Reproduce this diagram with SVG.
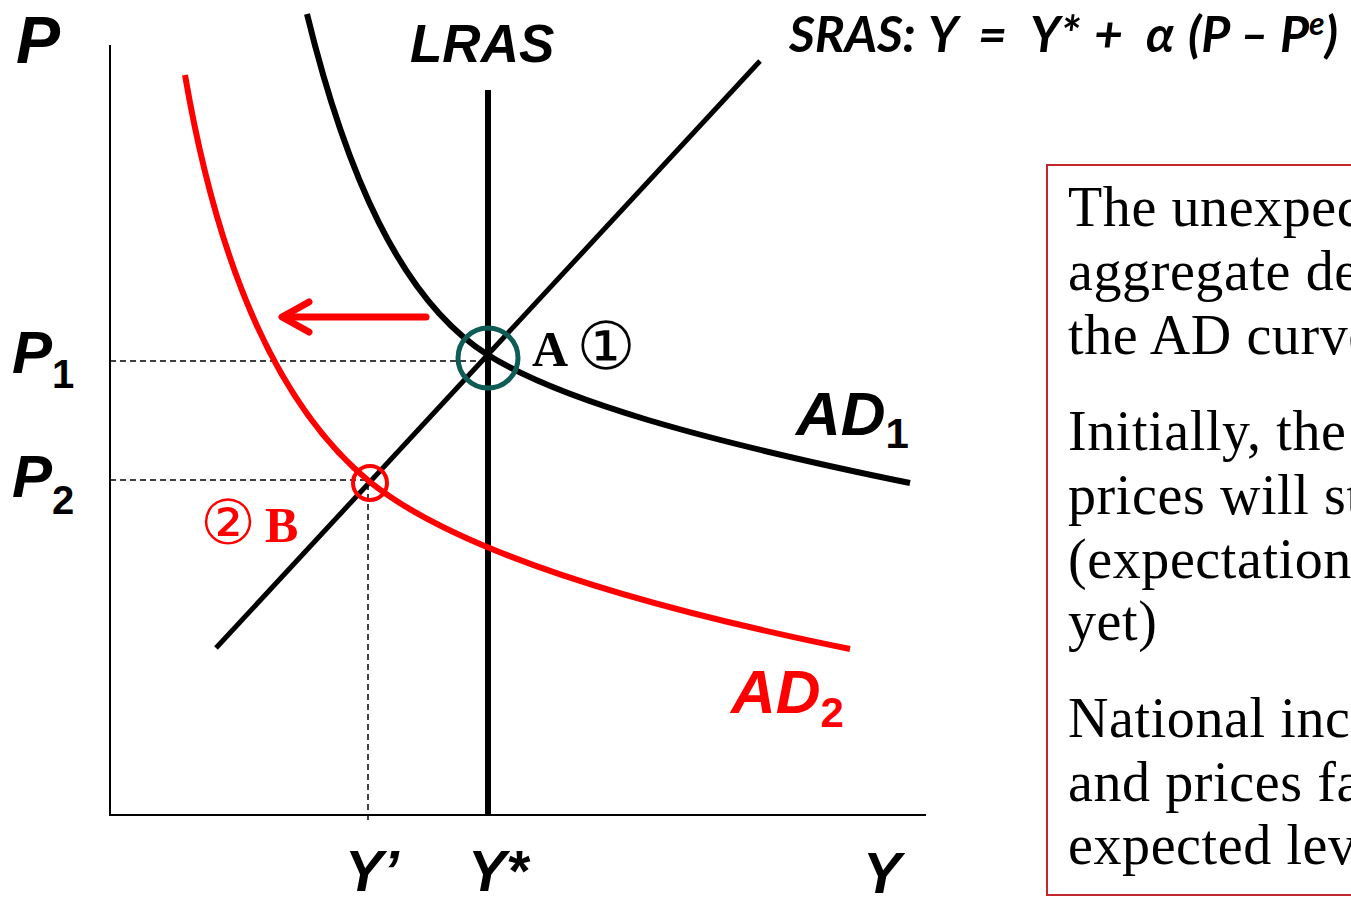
<svg xmlns="http://www.w3.org/2000/svg" width="1351" height="903" viewBox="0 0 1351 903">
<style>
.lbl{font-family:"Liberation Sans",Arial,sans-serif;font-weight:bold;font-style:italic}
.sub{font-style:normal}
.srf{font-family:"Liberation Serif","Times New Roman",serif;font-weight:bold}
.circ{font-family:"DejaVu Sans","Noto Sans CJK JP",sans-serif}
.body{font-family:"Liberation Serif","Times New Roman",serif;font-size:56px;fill:#000;letter-spacing:0.6px}
.dash{stroke:#000;stroke-width:1.5;stroke-dasharray:6,4;fill:none}
.crv{fill:none;stroke-width:6;stroke-linecap:butt}
</style>
<rect width="1351" height="903" fill="#fff"/>
<g id="axes" stroke="#000" stroke-width="2" fill="none">
<line x1="110" y1="45" x2="110" y2="816"/>
<line x1="109" y1="815" x2="926" y2="815"/>
</g>
<g id="connectors">
<line class="dash" x1="110" y1="361" x2="488" y2="361"/>
<line class="dash" x1="110" y1="480" x2="370" y2="480"/>
<line class="dash" x1="368" y1="484" x2="368" y2="821"/>
<line x1="488" y1="90" x2="488" y2="815" stroke="#000" stroke-width="6"/>
<line x1="216" y1="648" x2="760" y2="61" stroke="#000" stroke-width="5"/>
<path class="crv" stroke="#000" d="M307,14 C345,170 400,300 488,355 C560,400 700,440 910,483"/>
<path class="crv" stroke="#f00" d="M185,75 C215,250 270,400 370,482 C430,530 560,590 850,649"/>
<g stroke="#f00" stroke-width="7" stroke-linecap="round" fill="none">
<line x1="426" y1="317" x2="284" y2="317"/>
<polyline points="309,302 282,317 309,332" stroke-linejoin="round"/>
</g>
</g>
<g id="pointA">
<circle cx="488" cy="358" r="30" fill="none" stroke="#0e5c55" stroke-width="5"/>
<text class="srf" x="532" y="366" font-size="50">A</text>
<text class="circ" x="606" y="369" font-size="66" text-anchor="middle">①</text>
</g>
<g id="pointB">
<circle cx="370" cy="483" r="17" fill="none" stroke="#f00" stroke-width="4"/>
<text class="circ" x="228" y="544" font-size="62" text-anchor="middle" fill="#f00">②</text>
<text class="srf" x="265" y="542" font-size="50" fill="#f00">B</text>
</g>
<g id="labels">
<text class="lbl" x="16" y="63" font-size="66">P</text>
<text class="lbl" x="410" y="62" font-size="53">LRAS</text>
<text class="lbl" x="12" y="373" font-size="60">P<tspan class="sub" font-size="40" dy="15">1</tspan></text>
<text class="lbl" x="12" y="497" font-size="60">P<tspan class="sub" font-size="40" dy="17">2</tspan></text>
<text class="lbl" x="796" y="435" font-size="62">AD<tspan class="sub" font-size="42" dy="13">1</tspan></text>
<text class="lbl" x="731" y="713" font-size="62" fill="#f00">AD<tspan class="sub" font-size="42" dy="14">2</tspan></text>
<text class="lbl" x="345" y="891" font-size="57">Y’</text>
<text class="lbl" x="468" y="891" font-size="57">Y*</text>
<text class="lbl" x="863" y="893" font-size="57">Y</text>
<text font-family="Lato,'Open Sans','DejaVu Sans',sans-serif" font-weight="bold" font-style="italic" font-size="50" y="52"><tspan x="789">SRAS:</tspan><tspan x="928">Y</tspan><tspan x="978">=</tspan><tspan x="1030">Y*</tspan><tspan x="1094">+</tspan><tspan x="1146">α</tspan><tspan x="1188">(P – P</tspan><tspan font-size="32" dy="-17">e</tspan><tspan dy="17">)</tspan></text>
</g>
<g id="textbox">
<rect x="1047" y="165" width="330" height="730" fill="none" stroke="#c0282d" stroke-width="2"/>
<text class="body" x="1068"><tspan x="1068" y="226">The unexpected</tspan><tspan x="1068" y="290">aggregate demand</tspan><tspan x="1068" y="354">the AD curve</tspan><tspan x="1068" y="450">Initially, the</tspan><tspan x="1068" y="514">prices will stay</tspan><tspan x="1068" y="578">(expectations</tspan><tspan x="1068" y="640">yet)</tspan><tspan x="1068" y="737">National income</tspan><tspan x="1068" y="801">and prices fall</tspan><tspan x="1068" y="864">expected level</tspan></text>
</g>
</svg>
